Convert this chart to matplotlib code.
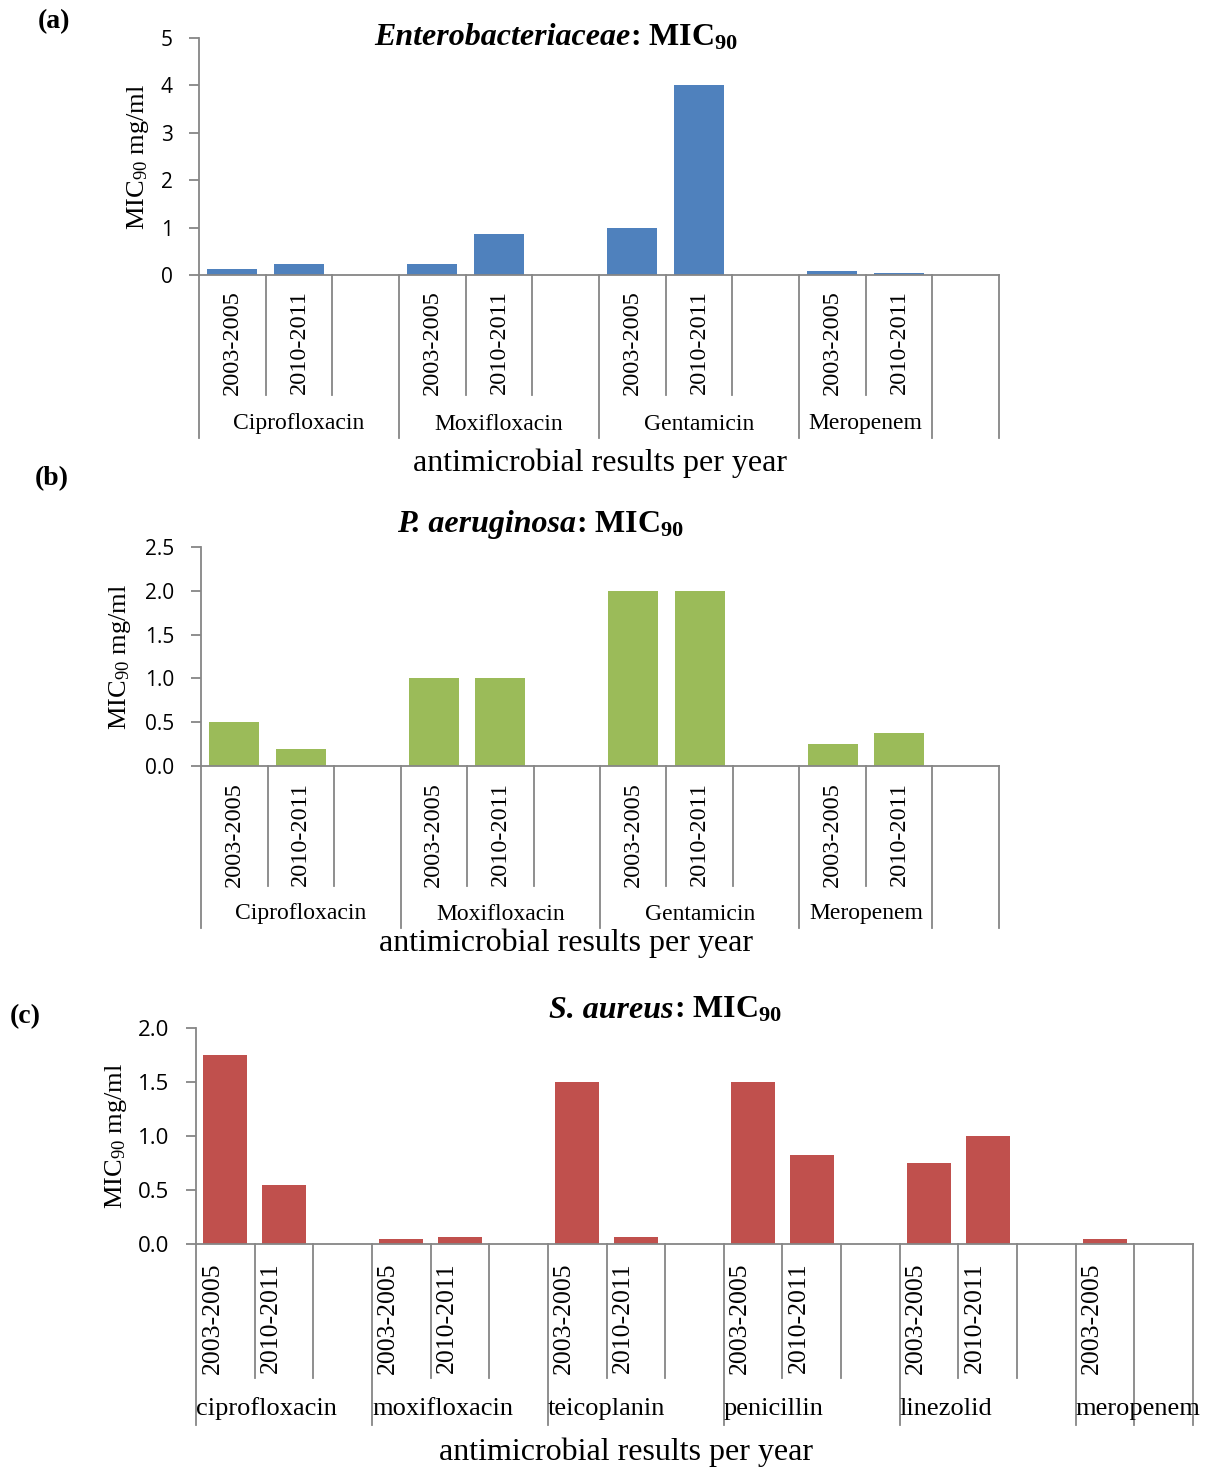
import numpy as np
import matplotlib.pyplot as plt
import matplotlib.transforms as mtransforms
from matplotlib.ticker import FormatStrFormatter

plt.rcParams['font.family'] = 'Liberation Serif'
plt.rcParams['mathtext.fontset'] = 'custom'
plt.rcParams['mathtext.rm'] = 'Liberation Serif'
plt.rcParams['mathtext.it'] = 'Liberation Serif:italic'
plt.rcParams['mathtext.bf'] = 'Liberation Serif:bold'

W, H = 1217, 1470
GREY = '#868686'

years = ['2003-2005', '2010-2011']

# (a) Enterobacteriaceae
ent_drugs = ['Ciprofloxacin', 'Moxifloxacin', 'Gentamicin', 'Meropenem']
ent_2003 = [0.125, 0.24, 1.0, 0.075]
ent_2010 = [0.24, 0.87, 4.0, 0.032]

# (b) P. aeruginosa
pa_drugs = ['Ciprofloxacin', 'Moxifloxacin', 'Gentamicin', 'Meropenem']
pa_2003 = [0.5, 1.0, 2.0, 0.25]
pa_2010 = [0.19, 1.0, 2.0, 0.375]

# (c) S. aureus (no 2010-2011 value for meropenem)
sa_drugs = ['ciprofloxacin', 'moxifloxacin', 'teicoplanin', 'penicillin', 'linezolid', 'meropenem']
sa_2003 = [1.75, 0.047, 1.5, 1.5, 0.75, 0.047]
sa_2010 = [0.55, 0.064, 0.064, 0.82, 1.0, None]


def fy(py):
    # pixel row -> figure fraction
    return 1 - py / H


def build_slots(drugs, v1, v2):
    heights, labels, groups = [], [], []
    pos = 0
    for k, d in enumerate(drugs):
        start = pos
        for yr, v in zip(years, (v1[k], v2[k])):
            if v is None:
                continue
            heights.append(v)
            labels.append(yr)
            pos += 1
        if k < len(drugs) - 1:
            heights.append(0)
            labels.append('')
            pos += 1
        groups.append((start, pos, d))
    # trailing empty category
    heights.append(0)
    labels.append('')
    groups.append((pos, pos + 1, ''))
    return heights, labels, groups


def panel(box, drugs, v1, v2, color, ymax, ystep, fmt, tick_fs, cat):
    left, top, right, bottom = box
    ax = fig.add_axes([left / W, fy(bottom), (right - left) / W, (bottom - top) / H])
    heights, labels, groups = build_slots(drugs, v1, v2)
    x = np.arange(len(heights))
    ax.bar(x, heights, width=0.75, color=color, zorder=2)
    ax.set_xlim(-0.5, len(heights) - 0.5)
    ax.set_ylim(0, ymax)
    ax.set_yticks(np.arange(0, ymax + ystep / 2, ystep))
    ax.yaxis.set_major_formatter(FormatStrFormatter(fmt))
    ax.set_xticks([])
    for s in ['top', 'right']:
        ax.spines[s].set_visible(False)
    for s in ['left', 'bottom']:
        ax.spines[s].set_color(GREY)
        ax.spines[s].set_linewidth(1.3)
    ax.tick_params(axis='y', direction='out', length=7, width=1.3, color=GREY,
                   labelsize=tick_fs, pad=12)
    for t in ax.get_yticklabels():
        t.set_fontfamily('Open Sans')

    trans = mtransforms.blended_transform_factory(ax.transData, fig.transFigure)
    starts = {g[0] for g in groups} | {groups[-1][1]}
    for b in range(len(heights) + 1):
        end = cat['long'] if b in starts else cat['short']
        ax.plot([b - 0.5, b - 0.5], [fy(bottom), fy(end)], transform=trans,
                color=GREY, lw=1.3, clip_on=False)
    for i, lab in enumerate(labels):
        if lab:
            ax.text(i + cat['dx'], fy(cat['ytop']), lab, rotation=90, ha='center', va='top',
                    fontsize=cat['year_fs'], transform=trans)
    for s, e, name in groups:
        if not name:
            continue
        if cat['left']:
            ax.text(s - 0.5, fy(cat['gy']), name, ha='left', va='center',
                    fontsize=cat['grp_fs'], transform=trans)
        else:
            ax.text((s + e - 1) / 2, fy(cat['gy']), name, ha='center', va='center',
                    fontsize=cat['grp_fs'], transform=trans)
    return ax


def title(px, py, species):
    t1 = fig.text(px / W, fy(py), species, fontsize=23, fontweight='bold',
                  fontstyle='italic', ha='left', va='baseline')
    fig.add_artist(plt.Annotation(r': MIC$_{\mathbf{90}}$', xy=(1, fy(py)),
                                  xycoords=(t1, 'figure fraction'), fontsize=23,
                                  fontweight='bold', ha='left', va='baseline'))


fig = plt.figure(figsize=(W / 100, H / 100), dpi=100)

ylab = r'MIC$_{\mathrm{90}}$ mg/ml'
xlab = 'antimicrobial results per year'

# (a)
panel((199, 38, 999, 275), ent_drugs, ent_2003, ent_2010, '#4F81BD', 5, 1, '%d', 15,
      dict(short=395, long=438, ytop=290, gy=424, dx=0, year_fs=17.5, grp_fs=17, left=False))
fig.text(38 / W, fy(22), '(a)', fontsize=20, fontweight='bold', va='center')
title(374, 45, 'Enterobacteriaceae')
fig.text(138 / W, fy(157), ylab, rotation=90, ha='center', va='center', fontsize=19)
fig.text(600 / W, fy(463), xlab, ha='center', va='center', fontsize=23)

# (b)
panel((201, 547, 999, 766), pa_drugs, pa_2003, pa_2010, '#9BBB59', 2.5, 0.5, '%.1f', 15,
      dict(short=886, long=928, ytop=782, gy=914, dx=0, year_fs=17.5, grp_fs=17, left=False))
fig.text(35 / W, fy(479), '(b)', fontsize=20, fontweight='bold', va='center')
title(397, 532, 'P. aeruginosa')
fig.text(120 / W, fy(657), ylab, rotation=90, ha='center', va='center', fontsize=19)
fig.text(566 / W, fy(943), xlab, ha='center', va='center', fontsize=23)

# (c)
panel((196, 1028, 1193, 1244), sa_drugs, sa_2003, sa_2010, '#C0504D', 2.0, 0.5, '%.1f', 16,
      dict(short=1378, long=1425, ytop=1262, gy=1409, dx=-0.22, year_fs=18.5, grp_fs=19,
           left=True))
fig.text(10 / W, fy(1017), '(c)', fontsize=20, fontweight='bold', va='center')
title(549, 1018, 'S. aureus')
fig.text(116 / W, fy(1136), ylab, rotation=90, ha='center', va='center', fontsize=19)
fig.text(626 / W, fy(1452), xlab, ha='center', va='center', fontsize=23)

fig.savefig('out.png', dpi=100)
